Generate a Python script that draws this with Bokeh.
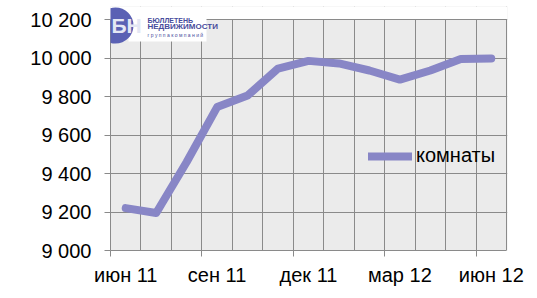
from bokeh.plotting import figure
from bokeh.models import (FixedTicker, Legend, LegendItem, Label, BoxAnnotation)
from bokeh.embed import file_html
from bokeh.resources import INLINE

# ---- data ----
months = ["июн 11", "июл 11", "авг 11", "сен 11", "окт 11", "ноя 11", "дек 11",
          "янв 12", "фев 12", "мар 12", "апр 12", "май 12", "июн 12"]
rooms = [9220, 9195, 9460, 9745, 9805, 9945, 9985, 9972, 9935, 9888, 9935, 9995, 9998]
series_name = "комнаты"
y_ticks = [9000, 9200, 9400, 9600, 9800, 10000, 10200]
y_tick_labels = ["9 000", "9 200", "9 400", "9 600", "9 800", "10 000", "10 200"]
label_every = 3

n = len(months)
xc = [i + 0.5 for i in range(n)]
y_lo, y_hi = y_ticks[0], y_ticks[-1]

W, H = 537, 298
L, R, T, B = 110, 30, 6, 48
plot_top_px = 19            # pixel row of the top of the value area
frame_w = W - L - R         # 397
frame_h = H - T - B         # 244
val_h = H - B - plot_top_px # 231
px_per_cat = 396 / n
x_end = frame_w / px_per_cat
y_end = y_lo + frame_h * (y_hi - y_lo) / val_h

p = figure(width=W, height=H, output_backend="svg", toolbar_location=None,
           x_range=(0, x_end), y_range=(y_lo, y_end),
           min_border_left=L, min_border_right=R, min_border_top=T, min_border_bottom=B)
p.border_fill_color = "white"
p.background_fill_color = "#ebebeb"
p.outline_line_color = None

FONT = "Liberation Sans"
GRID = "#8a8a8a"

# x axis: labels at category centers, tick marks on boundaries (minor ticks)
lab_pos = [i + 0.5 for i in range(0, n, label_every)]
p.xaxis.ticker = FixedTicker(ticks=lab_pos, minor_ticks=[i for i in range(0, n, label_every)])
p.xaxis.major_label_overrides = {i + 0.5: months[i] for i in range(0, n, label_every)}
p.xaxis.major_tick_out = 0
p.xaxis.major_tick_in = 0
p.xaxis.minor_tick_out = 6
p.xaxis.minor_tick_in = 0
p.xaxis.minor_tick_line_color = GRID
p.xaxis.axis_line_color = GRID
p.xaxis.bounds = (0, n)
p.xaxis.major_label_text_font = FONT
p.xaxis.major_label_text_font_size = "20px"
p.xaxis.major_label_text_color = "black"
p.xaxis.major_label_standoff = 7

p.yaxis.ticker = FixedTicker(ticks=y_ticks, minor_ticks=[])
p.yaxis.major_label_overrides = {t: s for t, s in zip(y_ticks, y_tick_labels)}
p.yaxis.major_tick_out = 6
p.yaxis.major_tick_in = 0
p.yaxis.major_tick_line_color = GRID
p.yaxis.axis_line_color = GRID
p.yaxis.bounds = (y_lo, y_hi)
p.yaxis.major_label_text_font = FONT
p.yaxis.major_label_text_font_size = "20px"
p.yaxis.major_label_text_color = "black"
p.yaxis.major_label_standoff = 13

p.xgrid.ticker = FixedTicker(ticks=list(range(n + 1)))
p.xgrid.grid_line_color = GRID
p.ygrid.ticker = FixedTicker(ticks=y_ticks)
p.ygrid.grid_line_color = GRID

sx = n / 396
sy = (y_hi - y_lo) / val_h
def dx(px):
    return (px - L) * sx
def dy(py):
    return y_lo + (H - B - py) * sy

# white margin above the value area (covers background and grid beyond the top)
p.add_layout(BoxAnnotation(bottom=y_hi + 0.6 * sy, fill_color="white", fill_alpha=1,
                           line_alpha=0))
# white margin right of the value area
p.add_layout(BoxAnnotation(left=n + 0.6 * sx, fill_color="white", fill_alpha=1,
                           line_alpha=0))

line = p.line(xc, rooms, line_color="#8886c6", line_width=8,
              line_join="round", line_cap="round")

legend = Legend(items=[LegendItem(label=series_name, renderers=[line])],
                location=(258, 83), glyph_width=44, glyph_height=20,
                label_standoff=4, label_text_font=FONT, label_text_font_size="20px",
                label_text_color="black", padding=0, margin=0,
                border_line_alpha=0, background_fill_alpha=0)
p.add_layout(legend)

# ---- logo (decoration) ----
p.add_layout(BoxAnnotation(left=dx(128), right=dx(206), top=dy(14), bottom=dy(41),
                           fill_color="white", fill_alpha=1, line_alpha=0))
p.add_layout(BoxAnnotation(left=dx(97), right=dx(133), top=dy(7), bottom=dy(43),
                           fill_color="#5a61b4", fill_alpha=1, line_alpha=0,
                           border_radius=18))
p.add_layout(Label(x=dx(111), y=dy(36), text="БН", text_font=FONT,
                   text_font_style="bold", text_font_size="21px",
                   text_color="#e4e7f4"))
p.add_layout(Label(x=dx(147), y=dy(23), text="БЮЛЛЕТЕНЬ", text_font=FONT,
                   text_font_style="bold", text_font_size="7px", text_color="#474c9c"))
p.add_layout(Label(x=dx(147), y=dy(30), text="НЕДВИЖИМОСТИ", text_font=FONT,
                   text_font_style="bold", text_font_size="8px", text_color="#474c9c"))
p.add_layout(Label(x=dx(147), y=dy(37), text="г р у п п а   к о м п а н и й", text_font=FONT,
                   text_font_size="5px", text_color="#474c9c"))

open("out.html", "w").write(file_html(p, INLINE))
